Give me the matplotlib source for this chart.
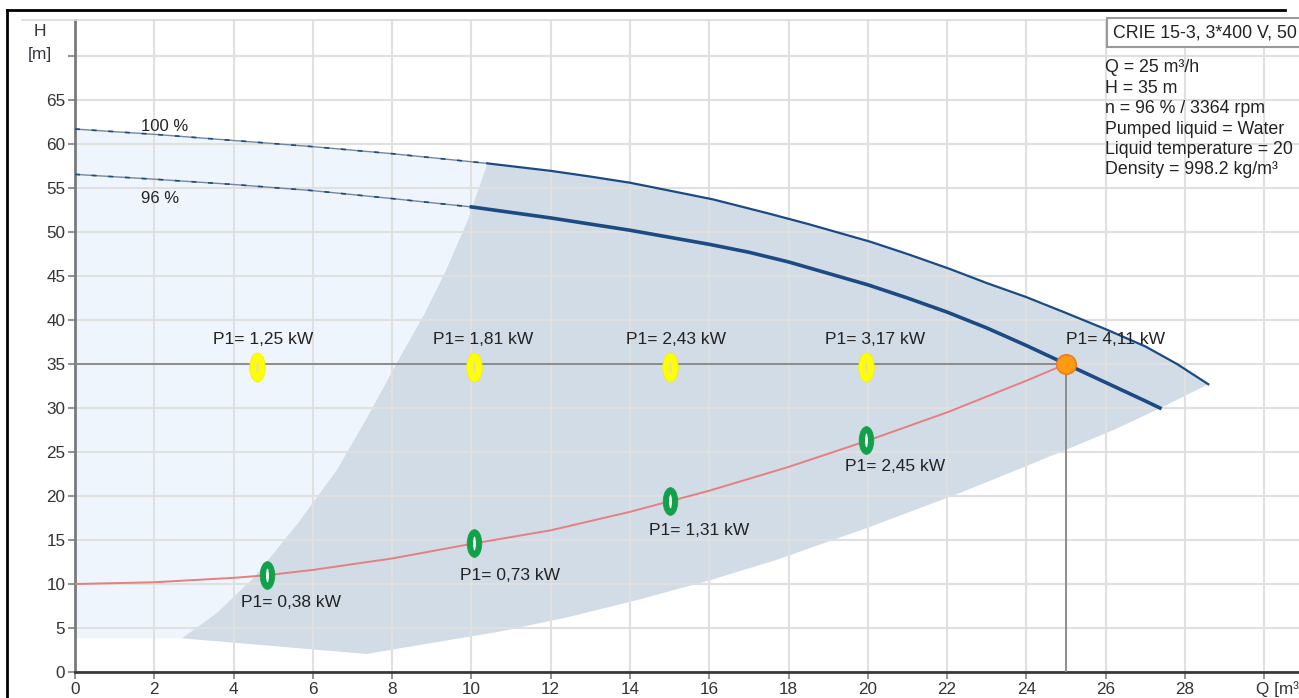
import numpy as np
import matplotlib
matplotlib.use("Agg")
import matplotlib.pyplot as plt
from matplotlib.path import Path
from matplotlib.transforms import Affine2D
from matplotlib.lines import Line2D
from matplotlib.patches import Rectangle

plt.rcParams['font.family'] = ['Liberation Sans', 'DejaVu Sans']

# ---- data ----
q100 = [0, 2, 4, 6, 8, 10.4, 12, 13, 14, 15, 16.1, 17.5, 18.5, 20.06, 21, 22.07, 23, 24, 25, 26.03, 27, 27.8, 28.59]
h100 = [61.7, 61.1, 60.4, 59.7, 58.9, 57.8, 56.95, 56.3, 55.6, 54.7, 53.7, 52.1, 50.9, 48.9, 47.5, 45.8, 44.2, 42.6, 40.8, 38.9, 37.0, 35.0, 32.7]
split100 = 10.4

q96 = [0, 2, 4, 6, 8, 10, 12, 14, 15, 16, 17, 18, 19, 20, 21, 22, 23, 24, 25, 26, 27, 27.37]
h96 = [56.55, 56.0, 55.4, 54.7, 53.8, 52.85, 51.6, 50.2, 49.4, 48.6, 47.7, 46.6, 45.3, 44.0, 42.5, 40.9, 39.1, 37.1, 35.0, 32.9, 30.8, 30.0]
split96 = 10.0

q_sys = [0, 2, 4, 4.85, 6, 8, 10.05, 12, 14, 15, 16, 18, 20, 22, 24, 25]
h_sys = [10.0, 10.2, 10.7, 11.0, 11.6, 12.9, 14.6, 16.1, 18.2, 19.4, 20.6, 23.3, 26.3, 29.5, 33.1, 35.0]

q_min = [2.69, 3.57, 4.5, 5.6, 6.6, 7.4, 8.11, 8.8, 9.35, 9.9, 10.4]
h_min = [3.83, 6.7, 10.7, 16.8, 22.95, 29.2, 35.1, 40.6, 45.6, 51.3, 57.8]

q_low = [2.69, 7.36, 9.0, 10.72, 12.5, 14.2, 16.0, 17.67, 20.0, 22.3, 24.0, 24.97, 26.2, 27.29, 28.59]
h_low = [3.83, 2.05, 3.3, 4.6, 6.3, 8.2, 10.4, 12.7, 16.4, 20.3, 23.4, 25.2, 27.5, 29.8, 32.7]

duty_q, duty_h = 25, 35

yellow_q = [4.59, 10.07, 15.0, 19.95]
yellow_h = [34.7, 34.7, 34.7, 34.7]
yellow_labels = ["P1= 1,25 kW", "P1= 1,81 kW", "P1= 2,43 kW", "P1= 3,17 kW"]
yellow_label_q = [4.74, 10.3, 15.16, 20.18]

duty_label = "P1= 4,11 kW"
duty_label_q = 26.24

green_q = [4.84, 10.07, 15.0, 19.95]
green_h = [11.0, 14.66, 19.4, 26.4]
green_labels = ["P1= 0,38 kW", "P1= 0,73 kW", "P1= 1,31 kW", "P1= 2,45 kW"]
green_label_q = [5.44, 10.97, 15.75, 20.7]
green_label_h = [7.9, 11.0, 16.1, 23.3]

info_lines = ["Q = 25 m³/h", "H = 35 m", "n = 96 % / 3364 rpm",
              "Pumped liquid = Water", "Liquid temperature = 20",
              "Density = 998.2 kg/m³"]
title_box = "CRIE 15-3, 3*400 V, 50"

xticks = list(range(0, 31, 2))
yticks = list(range(0, 71, 5))

# ---- figure ----
W, H = 1299, 698
fig = plt.figure(figsize=(W / 100, H / 100), dpi=100)
ax = fig.add_axes([75 / W, 26 / H, 1 - 75 / W, (672 - 20) / H])
ax.set_xlim(0, (W - 75) / 39.64)
ax.set_ylim(0, (672 - 20) / 8.8)

DARK = '#1c4a82'

# regions
q100a, h100a = np.array(q100), np.array(h100)
hi = q100a >= split100
lo = q100a <= split100
dark_x = np.concatenate([q_min, q100a[hi][1:], q_low[::-1][1:]])
dark_y = np.concatenate([h_min, h100a[hi][1:], h_low[::-1][1:]])
ax.fill(dark_x, dark_y, color='#d2dce7', lw=0, zorder=0.3)
light_x = np.concatenate([[0], q_min, q100a[lo][::-1][1:]])
light_y = np.concatenate([[h_min[0]], h_min, h100a[lo][::-1][1:]])
ax.fill(light_x, light_y, color='#eef5fc', lw=0, zorder=0.3)

ax.set_axisbelow(True)
ax.grid(True, color='#e0e0e0', lw=1.5)

# pump curves
ax.plot(q100a[lo], h100a[lo], color='#7587a0', lw=1.0, zorder=3)
ax.plot(q100a[lo], h100a[lo], color=DARK, lw=1.2, dashes=(3, 7), zorder=3)
ax.plot(q100a[hi], h100a[hi], color=DARK, lw=1.6, zorder=3)
q96a, h96a = np.array(q96), np.array(h96)
ax.plot(q96a[q96a <= split96], h96a[q96a <= split96], color='#7587a0', lw=1.0, zorder=3)
ax.plot(q96a[q96a <= split96], h96a[q96a <= split96], color=DARK, lw=1.2, dashes=(3, 7), zorder=3)
ax.plot(q96a[q96a >= split96], h96a[q96a >= split96], color=DARK, lw=2.6, zorder=3)

# system curve and duty lines
ax.plot(q_sys, h_sys, color='#e57f80', lw=1.4, zorder=3)
ax.plot([0, duty_q], [duty_h, duty_h], color='#8c8c8c', lw=1.4, zorder=2.6)
ax.plot([duty_q, duty_q], [0, duty_h], color='#8c8c8c', lw=1.4, zorder=2.6)

# markers
ell = Path.unit_circle().transformed(Affine2D().scale(0.53, 1.0))
slit = Path.unit_circle().transformed(Affine2D().scale(0.2, 1.0))
ax.plot(yellow_q, yellow_h, ls='none', marker=ell, ms=21, mfc='#ffff00', mec='#f2ee00', mew=0.5, zorder=5)
ax.plot(yellow_q, yellow_h, ls='none', marker=slit, ms=9, mfc='#e6e19a', mec='none', zorder=6)
ax.plot(green_q, green_h, ls='none', marker=ell, ms=20, mfc='#13a04a', mec='#13a04a', mew=0.5, zorder=5)
ax.plot(green_q, green_h, ls='none', marker=slit, ms=10, mfc='white', mec='none', zorder=6)
ax.plot([duty_q], [duty_h], ls='none', marker='o', ms=14, mfc='#ff9a12', mec='#ec7d22', mew=1.2, zorder=6)

TXT = '#222222'
for q, lab in zip(yellow_label_q, yellow_labels):
    ax.text(q, 37.8, lab, ha='center', va='center', fontsize=12.5, color=TXT, zorder=7)
ax.text(duty_label_q, 37.8, duty_label, ha='center', va='center', fontsize=12.5, color=TXT, zorder=7)
for q, h, lab in zip(green_label_q, green_label_h, green_labels):
    ax.text(q, h, lab, ha='center', va='center', fontsize=12.5, color=TXT, zorder=7)

ax.text(2.25, 62.0, "100 %", ha='center', va='center', fontsize=12, color=TXT, zorder=7)
ax.text(2.14, 53.8, "96 %", ha='center', va='center', fontsize=12, color=TXT, zorder=7)

# axes styling
ax.set_xticks(xticks)
ax.set_xticklabels([str(t) if t < 30 else '' for t in xticks])
ax.set_yticks(yticks)
ax.set_yticklabels([str(t) if t < 70 else '' for t in yticks])
ax.tick_params(direction='out', length=5, width=1.2, color='#808080',
               labelsize=12.3, labelcolor='#333333', pad=2)
for s in ['top', 'right']:
    ax.spines[s].set_visible(False)
ax.spines['left'].set_color('#7a7a7a')
ax.spines['left'].set_linewidth(2)
ax.spines['bottom'].set_color('#3a3a3a')
ax.spines['bottom'].set_linewidth(2)

# axis titles
fig.text(40 / W, 1 - 32 / H, "H", ha='center', va='center', fontsize=12.5, color='#333340')
fig.text(40 / W, 1 - 55 / H, "[m]", ha='center', va='center', fontsize=12.5, color='#333340')
fig.text(1256 / W, 1 - 689 / H, "Q [m³/h]", ha='left', va='center', fontsize=12.3, color='#333333')

# info box
fig.patches.append(Rectangle((1107 / W, 1 - 47 / H), (W - 1107) / W + 0.01, 29 / H,
                             transform=fig.transFigure, facecolor='white',
                             edgecolor='#9a9a9a', lw=1.5, zorder=5))
fig.text(1113 / W, 1 - 33 / H, title_box, ha='left', va='center', fontsize=12.8, color=TXT, zorder=6)
for i, line in enumerate(info_lines):
    fig.text(1105 / W, 1 - (68 + i * 20.4) / H, line, ha='left', va='center',
             fontsize=12.8, color=TXT, zorder=6)

# outer frame lines
fig.lines.append(Line2D([7 / W, 1285 / W], [1 - 10 / H, 1 - 10 / H], transform=fig.transFigure,
                        color='black', lw=2))
fig.lines.append(Line2D([7 / W, 7 / W], [1 - 10 / H, 0], transform=fig.transFigure,
                        color='black', lw=2))
fig.lines.append(Line2D([22 / W, 1], [1 - 20 / H, 1 - 20 / H], transform=fig.transFigure,
                        color='#d8d8d8', lw=1.2))

fig.savefig("out.png", dpi=100)
